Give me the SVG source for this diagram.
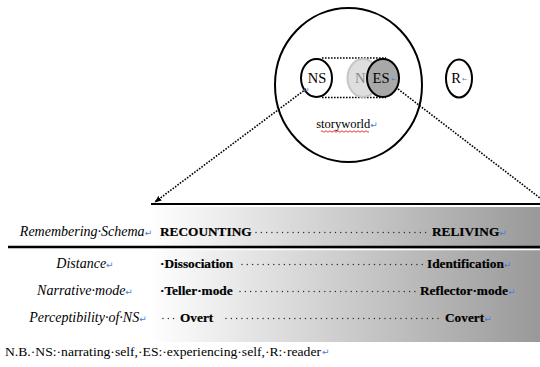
<svg xmlns="http://www.w3.org/2000/svg" width="540" height="367" viewBox="0 0 540 367">
  <defs>
    <linearGradient id="band" x1="150" y1="0" x2="540" y2="0" gradientUnits="userSpaceOnUse">
      <stop offset="0" stop-color="#ffffff"/>
      <stop offset="1" stop-color="#999999"/>
    </linearGradient>
    <marker id="head" viewBox="0 0 10 10" refX="9" refY="5" markerWidth="7" markerHeight="7" orient="auto" markerUnits="userSpaceOnUse">
      <path d="M0,1 L10,5 L0,9 Z" fill="#000"/>
    </marker>
  </defs>
  <style>
    .ring { fill: none; stroke: #000; stroke-width: 2; }
    .dotted { fill: none; stroke: #000; stroke-width: 1.6; stroke-dasharray: 1.6 1.4; }
    .leader { fill: none; stroke: #2a2a2a; stroke-width: 1.4; stroke-linecap: round; stroke-dasharray: 0 5.3; }
    .tx { font-family: "Liberation Serif", serif; fill: #000; }
    .lab { font-family: "Liberation Serif", serif; font-size: 14px; font-style: italic; fill: #000; }
    .val { font-family: "Liberation Serif", serif; font-size: 13.3px; font-weight: bold; fill: #000; stroke: #000; stroke-width: 0.2; }
    .ret { font-family: "DejaVu Sans", sans-serif; font-size: 9px; font-style: normal; font-weight: normal; fill: #3f80d8; stroke: none; }
  </style>

  <rect width="540" height="367" fill="#fff"/>

  <!-- table band with left-to-right grey shading -->
  <g id="table">
    <rect x="150" y="207" width="390" height="135" fill="url(#band)"/>
    <line x1="150" y1="249.5" x2="540" y2="249.5" stroke="#fff" stroke-width="1.5"/>
    <line x1="8" y1="247" x2="540" y2="247" stroke="#000" stroke-width="2.6"/>
  </g>

  <!-- storyworld circle with the selves and the reader -->
  <g id="storyworld">
    <ellipse class="ring" cx="348.5" cy="85" rx="73.5" ry="77"/>
    <text class="tx" x="347" y="128" font-size="12.5" text-anchor="middle">storyworld<tspan class="ret">↵</tspan></text>
    <path d="M321,131.5 q1,-1.5 2,0 t2,0 t2,0 t2,0 t2,0 t2,0 t2,0 t2,0 t2,0 t2,0 t2,0 t2,0 t2,0 t2,0 t2,0 t2,0 t2,0 t2,0 t2,0 t2,0 t2,0 t2,0 t2,0 t2,0" fill="none" stroke="#e02020" stroke-width="0.9"/>
  </g>

  <g id="self-frame">
    <line class="dotted" x1="322" y1="58" x2="386" y2="58"/>
    <line class="dotted" x1="322" y1="97.5" x2="386" y2="97.5"/>
  </g>

  <g id="ns">
    <ellipse class="ring" cx="316.5" cy="78" rx="15.5" ry="19" style="fill:#fff"/>
    <text class="tx" x="317" y="83" font-size="14.5" text-anchor="middle">NS</text>
  </g>

  <g id="n-faded">
    <ellipse cx="363" cy="78" rx="15.5" ry="19" fill="#dedede" stroke="#c6c6c6" stroke-width="2"/>
    <text class="tx" x="355" y="83" font-size="14.5" style="fill:#8a8a8a">N</text>
  </g>

  <g id="es">
    <ellipse cx="383" cy="78" rx="16" ry="19" fill="#a8a8a8" stroke="#000" stroke-width="2"/>
    <text class="tx" x="381" y="83" font-size="14.5" text-anchor="middle">ES</text>
    <text class="ret" x="391" y="81" style="font-size:6px">←</text>
  </g>

  <g id="r">
    <ellipse class="ring" cx="459" cy="78.5" rx="13" ry="19"/>
    <text class="tx" x="456" y="83" font-size="14.5" text-anchor="middle">R</text>
    <text class="ret" x="462" y="81" style="font-size:6px">←</text>
  </g>

  <!-- zoom-out projection lines -->
  <g id="connectors">
    <path class="dotted" d="M306,89 L155,202" marker-end="url(#head)"/>
    <path class="dotted" d="M398,89 L540,198"/>
    <line x1="151" y1="204" x2="540" y2="204" stroke="#000" stroke-width="1.8"/>
    <text class="ret" x="303" y="93" style="font-size:8px">↵</text>
  </g>

  <!-- rows -->
  <g id="row-schema">
    <text class="lab" x="86" y="236" text-anchor="middle">Remembering·Schema<tspan class="ret">↵</tspan></text>
    <text class="val" x="160" y="236">RECOUNTING</text>
    <line class="leader" x1="256" y1="232.5" x2="429" y2="232.5"/>
    <text class="val" x="432" y="236">RELIVING<tspan class="ret">↵</tspan></text>
  </g>

  <g id="row-distance">
    <text class="lab" x="85" y="268" text-anchor="middle">Distance<tspan class="ret">↵</tspan></text>
    <text class="val" x="160" y="268">·Dissociation</text>
    <line class="leader" x1="242" y1="264.5" x2="424" y2="264.5"/>
    <text class="val" x="427" y="268">Identification<tspan class="ret">↵</tspan></text>
  </g>

  <g id="row-mode">
    <text class="lab" x="85" y="295" text-anchor="middle">Narrative·mode<tspan class="ret">↵</tspan></text>
    <text class="val" x="160" y="295">·Teller·mode</text>
    <line class="leader" x1="240" y1="291.5" x2="417" y2="291.5"/>
    <text class="val" x="420" y="295">Reflector·mode<tspan class="ret">↵</tspan></text>
  </g>

  <g id="row-ns">
    <text class="lab" x="88" y="322" text-anchor="middle">Perceptibility·of·NS<tspan class="ret">↵</tspan></text>
    <line class="leader" x1="163" y1="318.5" x2="175" y2="318.5"/>
    <text class="val" x="180" y="322">Overt</text>
    <line class="leader" x1="226" y1="318.5" x2="442" y2="318.5"/>
    <text class="val" x="445" y="322">Covert<tspan class="ret">↵</tspan></text>
  </g>

  <g id="note">
    <text class="tx" x="5" y="356" font-size="13.5" textLength="316" lengthAdjust="spacingAndGlyphs">N.B.·NS:·narrating·self,·ES:·experiencing·self,·R:·reader</text>
    <text class="ret" x="322" y="355">↵</text>
  </g>
</svg>
